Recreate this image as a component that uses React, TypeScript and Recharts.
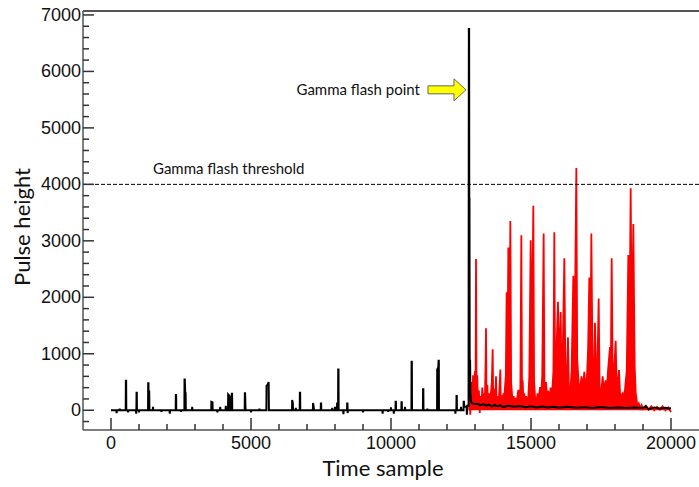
import { ComposedChart, Line, Area, XAxis, YAxis, ReferenceLine, ReferenceDot } from "recharts";

// [time sample, pulse height]
const blackTrace: [number, number][] = [
  [0, 0], [190, 0], [200, -50], [210, 0], [300, 0], [310, 30], [320, 0], [526, 0], [531, 520], [541, 520], [546, 0],
  [600, 0], [610, -40], [620, 0], [890, 0], [900, -60], [907, 0], [912, 310], [922, 310], [927, 0], [995, 0],
  [1000, -40], [1005, 0], [1323, 0], [1328, 480], [1338, 480], [1345, 150], [1355, 330], [1365, 330], [1372, 0],
  [1490, 0], [1500, 60], [1510, 0], [1790, 0], [1800, -30], [1810, 0], [2090, 0], [2100, -60], [2110, 0],
  [2311, 0], [2316, 270], [2326, 270], [2331, 0], [2490, 0], [2500, -30], [2510, 0], [2621, 0], [2626, 545],
  [2636, 545], [2650, 300], [2665, 300], [2672, 0], [2890, 0], [2900, 60], [2910, 0], [3580, 0], [3585, 150],
  [3625, 140], [3632, 0], [3790, 0], [3800, -40], [3810, 0], [3890, 0], [3900, 60], [3910, 0], [4090, 0],
  [4100, 80], [4110, 0], [4180, 0], [4185, 280], [4240, 250], [4247, 0], [4310, 0], [4315, 290], [4325, 290],
  [4330, 0], [4775, 0], [4780, 300], [4790, 300], [4800, 80], [4810, 0], [4990, 0], [5000, -40], [5010, 0],
  [5290, 0], [5300, 30], [5310, 0], [5550, 0], [5555, 430], [5600, 460], [5630, 500], [5640, 0], [6465, 0],
  [6470, 180], [6495, 120], [6502, 0], [6590, 0], [6600, 40], [6610, 0], [6740, 0], [6745, 310], [6755, 310],
  [6760, 0], [7210, 0], [7215, 130], [7240, 60], [7250, 0], [7490, 0], [7495, 120], [7505, 120], [7510, 0],
  [7890, 0], [7900, 40], [7910, 0], [7990, 0], [8000, 60], [8010, 0], [8070, 0], [8075, 120], [8110, 120],
  [8115, 720], [8125, 720], [8130, 0], [8290, 0], [8300, -70], [8310, 0], [8430, 0], [8435, 120], [8445, 120],
  [8452, -50], [8460, 0], [8990, 0], [9000, -40], [9010, 0], [9690, 0], [9700, -60], [9710, 0], [9890, 0],
  [9900, -30], [9910, 0], [9990, 0], [10000, 50], [10010, 0], [10090, 0], [10100, -60], [10110, 0], [10160, 0],
  [10165, 150], [10175, 150], [10180, 0], [10370, 0], [10375, 140], [10385, 140], [10390, 0], [10490, 0],
  [10500, 60], [10510, 0], [10730, 0], [10735, 860], [10745, 860], [10750, 0], [11140, 0], [11145, 370],
  [11155, 370], [11160, 0], [11290, 0], [11300, 30], [11310, 0], [11645, 0], [11650, 720], [11690, 760],
  [11698, 875], [11708, 875], [11713, 0], [12290, 0], [12300, -60], [12310, 0], [12335, 0], [12340, 250],
  [12350, 250], [12355, 0], [12490, 0], [12500, 60], [12510, 0], [12590, 0], [12595, 150], [12605, 150],
  [12615, 60], [12700, 60], [12710, -80], [12720, 80], [12770, 80], [12780, 6750], [12790, 6750], [12795, 3740],
  [12803, 3740], [12810, 900], [12825, 880], [12835, 300], [12860, 150], [12900, 120], [13000, 110],
  [13100, 110], [13200, 90], [13300, 110], [13400, 80], [13500, 100], [13600, 70], [13700, 90], [13800, 70],
  [13900, 85], [14000, 60], [14200, 80], [14400, 60], [14600, 75], [14800, 55], [15000, 70], [15200, 50],
  [15400, 65], [15600, 50], [15800, 60], [16000, 45], [16300, 60], [16600, 45], [16900, 55], [17200, 40],
  [17500, 55], [17800, 40], [18100, 50], [18400, 40], [18700, 50], [19000, 40], [19100, 70], [19200, 20],
  [19400, 50], [19600, 30], [19800, 45], [20000, 30],
];

const redTrace: [number, number][] = [
  [12791, 0], [12801, 300], [12831, -80], [12871, 500], [12901, 150], [12931, 620], [12961, 100], [13001, 700],
  [13020, 200], [13036, 2680], [13055, 300], [13080, 620], [13110, 100], [13140, 350], [13170, -50], [13201, 250],
  [13230, 80], [13260, 400], [13290, 120], [13320, 300], [13350, 100], [13380, 900], [13393, 1450], [13410, 200],
  [13440, 450], [13470, 60], [13501, 300], [13530, 100], [13560, 250], [13601, 500], [13631, 1080], [13650, 200],
  [13690, 380], [13720, 150], [13750, 600], [13770, 120], [13801, 250], [13840, 100], [13870, 350], [13905, 720],
  [13920, 150], [13950, 260], [13980, 80], [14010, 300], [14040, 150], [14070, 400], [14100, 600], [14131, 2090],
  [14160, 900], [14190, 2880], [14220, 700], [14262, 3350], [14290, 500], [14320, 300], [14350, 100], [14380, 250],
  [14410, 80], [14440, 220], [14470, 100], [14500, 200], [14548, 360], [14580, 120], [14620, 400], [14655, 3100],
  [14680, 300], [14702, 530], [14730, 150], [14760, 300], [14801, 80], [14830, 250], [14860, 120], [14900, 200],
  [14940, 600], [14988, 3010], [15030, 1100], [15083, 3620], [15110, 500], [15150, 200], [15190, 100],
  [15230, 300], [15270, 150], [15321, 410], [15350, 200], [15401, 600], [15452, 3130], [15480, 300], [15536, 500],
  [15570, 200], [15610, 350], [15650, 150], [15700, 400], [15750, 250], [15801, 700], [15833, 3150], [15860, 600],
  [15900, 900], [15964, 1920], [16001, 700], [16060, 1740], [16090, 500], [16130, 900], [16190, 2690],
  [16230, 600], [16270, 400], [16321, 1290], [16350, 400], [16400, 300], [16450, 700], [16512, 2380],
  [16560, 1300], [16619, 4290], [16650, 900], [16700, 500], [16750, 300], [16800, 600], [16850, 400],
  [16905, 680], [16950, 350], [17000, 600], [17040, 1100], [17083, 2350], [17120, 800], [17155, 3130],
  [17201, 600], [17240, 400], [17286, 1550], [17330, 500], [17370, 700], [17417, 1980], [17450, 400],
  [17501, 300], [17560, 600], [17600, 350], [17667, 530], [17700, 300], [17750, 700], [17821, 1120],
  [17850, 600], [17881, 2690], [17920, 500], [17960, 600], [18024, 1230], [18060, 400], [18101, 500],
  [18143, 710], [18180, 300], [18230, 250], [18280, 300], [18330, 200], [18380, 500], [18420, 700],
  [18476, 2750], [18520, 1500], [18560, 3930], [18600, 1200], [18655, 3300], [18701, 800], [18740, 300],
  [18774, 180], [18800, 60], [18850, 120], [18900, 30], [18950, 90], [19001, 20], [19101, 80], [19201, 10],
  [19300, 70], [19401, 0], [19500, 60], [19601, 10], [19700, 70], [19801, 0], [19900, 50], [20001, -30],
];

const xTicks = [
  0, 1000, 2000, 3000, 4000, 5000, 6000, 7000, 8000, 9000, 10000,
  11000, 12000, 13000, 14000, 15000, 16000, 17000, 18000, 19000, 20000,
];
const yTicks = [
  -200, 0, 200, 400, 600, 800, 1000, 1200, 1400, 1600, 1800, 2000, 2200, 2400, 2600, 2800, 3000,
  3200, 3400, 3600, 3800, 4000, 4200, 4400, 4600, 4800, 5000, 5200, 5400, 5600, 5800, 6000,
  6200, 6400, 6600, 6800, 7000,
];

const threshold = 4000;
const flashTime = 12785;
const xDomain = [-1000, 21000];
const yDomain = [-350, 7070];

const blackMap = new Map(blackTrace);
const redMap = new Map(redTrace);
const allTimes = Array.from(new Set([...blackMap.keys(), ...redMap.keys()])).sort((a, b) => a - b);
const table = allTimes.map((t) => ({
  t,
  black: blackMap.has(t) ? blackMap.get(t) : null,
  red: redMap.has(t) ? redMap.get(t) : null,
}));

const tickFont = "'Liberation Sans', Arial, sans-serif";
const textFont = "Lato, 'Open Sans', sans-serif";
const frameColor = "#555";

const YTick = ({ x, y, payload }: any) => {
  const major = payload.value % 1000 === 0;
  return (
    <g>
      <line x1={x} y1={y} x2={x + (major ? 11 : 6)} y2={y} stroke="#333" strokeWidth={1.5} />
      {major && (
        <text x={x - 2} y={y} dy={6} textAnchor="end" fontSize={18} fontFamily={tickFont} fill="#111">
          {payload.value}
        </text>
      )}
    </g>
  );
};

const XTick = ({ x, y, payload }: any) => {
  const major = payload.value % 5000 === 0;
  return (
    <g>
      <line x1={x} y1={y} x2={x} y2={y - (major ? 12 : 6)} stroke="#333" strokeWidth={1.5} />
      {major && (
        <text x={x} y={y + 19} textAnchor="middle" fontSize={18} fontFamily={tickFont} fill="#111">
          {payload.value}
        </text>
      )}
    </g>
  );
};

const ThresholdText = ({ cx, cy }: any) => (
  <text x={cx} y={cy - 10} fontSize={15} fontFamily={textFont} fill="#111">
    Gamma flash threshold
  </text>
);

const FlashArrow = ({ cx, cy }: any) => {
  const tip = cx - 3;
  return (
    <g>
      <text x={tip - 46} y={cy + 5} textAnchor="end" fontSize={15} fontFamily={textFont} fill="#111">
        Gamma flash point
      </text>
      <polygon
        points={`${tip - 38},${cy - 4} ${tip - 12},${cy - 4} ${tip - 12},${cy - 11} ${tip},${cy} ${tip - 12},${cy + 11} ${tip - 12},${cy + 4} ${tip - 38},${cy + 4}`}
        fill="#ffff00"
        stroke="#666"
        strokeWidth={1}
      />
    </g>
  );
};

export default function App() {
  return (
    <div style={{ position: "absolute", left: 0, top: 0, background: "#fff" }}>
      <ComposedChart width={699} height={487} data={table} margin={{ top: 11, right: 0, bottom: 0, left: 0 }}>
        <XAxis
          dataKey="t"
          type="number"
          domain={xDomain}
          allowDataOverflow
          ticks={xTicks}
          interval={0}
          tickSize={0}
          tickMargin={0}
          axisLine={false}
          tickLine={false}
          tick={<XTick />}
          height={57}
          label={{
            content: (p: any) => (
              <text
                x={p.viewBox.x + p.viewBox.width / 2 - 8}
                y={p.viewBox.y + 46}
                textAnchor="middle"
                fontSize={22}
                fontFamily={textFont}
                fill="#111"
              >
                Time sample
              </text>
            ),
          }}
        />
        <YAxis
          type="number"
          domain={yDomain}
          allowDataOverflow
          ticks={yTicks}
          interval={0}
          tickSize={0}
          tickMargin={0}
          axisLine={false}
          tickLine={false}
          tick={<YTick />}
          width={83}
          label={{
            content: () => (
              <text
                x={30}
                y={227}
                transform="rotate(-90 30 227)"
                textAnchor="middle"
                fontSize={22}
                fontFamily={textFont}
                fill="#111"
              >
                Pulse height
              </text>
            ),
          }}
        />
        <ReferenceLine y={yDomain[1]} stroke={frameColor} strokeWidth={2} />
        <ReferenceLine y={yDomain[0]} stroke={frameColor} strokeWidth={1.5} />
        <ReferenceLine x={xDomain[0]} stroke={frameColor} strokeWidth={1.5} />
        <ReferenceLine y={threshold} stroke="#000" strokeDasharray="4 2" strokeWidth={1} />
        <Area
          dataKey="red"
          type="linear"
          baseValue={0}
          connectNulls
          stroke="#ff0000"
          strokeWidth={1.8}
          fill="#ff0000"
          fillOpacity={1}
          dot={false}
          activeDot={false}
          isAnimationActive={false}
        />
        <Line
          dataKey="black"
          type="linear"
          connectNulls
          stroke="#000"
          strokeWidth={2}
          dot={false}
          activeDot={false}
          isAnimationActive={false}
        />
        <ReferenceDot x={1500} y={threshold} r={1} shape={<ThresholdText />} />
        <ReferenceDot x={flashTime} y={5674} r={1} shape={<FlashArrow />} />
      </ComposedChart>
    </div>
  );
}
